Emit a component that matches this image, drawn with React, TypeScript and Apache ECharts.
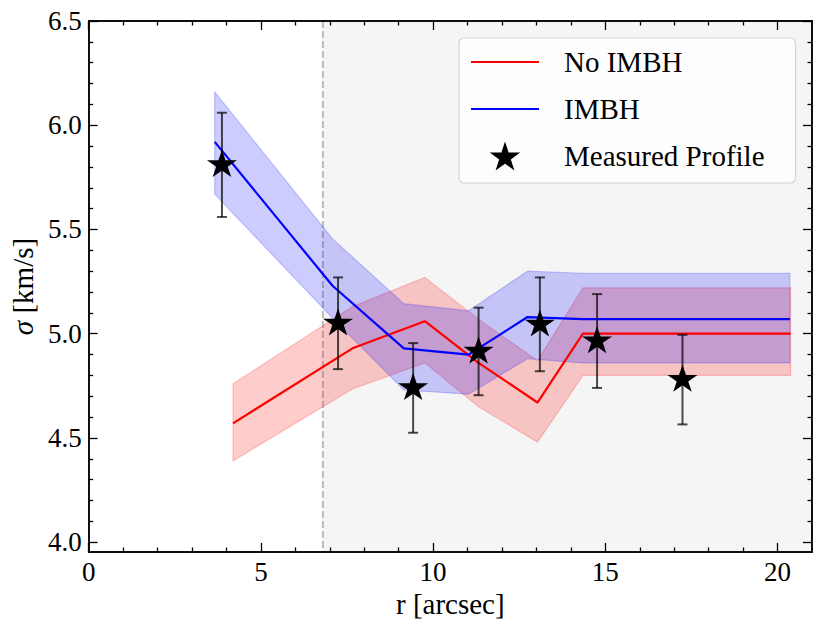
import React, { useEffect, useRef } from 'react';
import * as echarts from 'echarts';

// ---- data ----
const noImbhX = [4.19, 7.66, 9.76, 11.32, 13.03, 14.35, 16.35, 18.35, 20.38];
const noImbhY = [4.57, 4.93, 5.06, 4.86, 4.67, 5.0, 5.0, 5.0, 5.0];
const noImbhUpper = [4.76, 5.13, 5.27, 5.07, 4.87, 5.22, 5.22, 5.22, 5.22];
const noImbhLower = [4.39, 4.735, 4.86, 4.65, 4.48, 4.8, 4.8, 4.8, 4.8];

const imbhX = [3.66, 7.08, 9.15, 11.03, 12.74, 14.35, 16.35, 18.35, 20.36];
const imbhY = [5.92, 5.23, 4.93, 4.9, 5.08, 5.07, 5.07, 5.07, 5.07];
const imbhUpper = [6.16, 5.455, 5.144, 5.11, 5.3, 5.29, 5.29, 5.29, 5.29];
const imbhLower = [5.67, 5.075, 4.73, 4.71, 4.88, 4.86, 4.86, 4.86, 4.86];

const measX = [3.87, 7.24, 9.42, 11.32, 13.1, 14.76, 17.24];
const measY = [5.81, 5.05, 4.74, 4.915, 5.045, 4.965, 4.78];
const measErr = [0.25, 0.22, 0.215, 0.21, 0.225, 0.225, 0.215];

const psfLimit = [6.8];

const legendNames = ['No IMBH', 'IMBH', 'Measured Profile'];

const xMajorTicks = [0, 5, 10, 15, 20];
const xMinorTicks = [1, 2, 3, 4, 6, 7, 8, 9, 11, 12, 13, 14, 16, 17, 18, 19];
const yMajorTicks = [4.0, 4.5, 5.0, 5.5, 6.0, 6.5];
const yMinorTicks = [4.1, 4.2, 4.3, 4.4, 4.6, 4.7, 4.8, 4.9, 5.1, 5.2, 5.3, 5.4, 5.6, 5.7, 5.8, 5.9, 6.1, 6.2, 6.3, 6.4];

const X_MIN = 0;
const X_MAX = 21;
const Y_MIN = 3.953;
const Y_MAX = 6.5;

const FONT = "'Liberation Serif', 'Times New Roman', serif";

// five-pointed star marker (shape only)
function starPath(): string {
  const R = 50;
  const r = R * 0.381966;
  const pts: string[] = [];
  for (let k = 0; k < 10; k++) {
    const rad = k % 2 === 0 ? R : r;
    const a = -Math.PI / 2 + (k * Math.PI) / 5;
    pts.push(`${(rad * Math.cos(a)).toFixed(3)},${(rad * Math.sin(a)).toFixed(3)}`);
  }
  return 'path://M' + pts.join('L') + 'Z';
}
const STAR = starPath();
const LINE_ICON = 'path://M0,0H68V2.2H0Z';

function bandSeries(name: string, xs: number[], lo: number[], hi: number[], color: string) {
  return {
    name,
    type: 'custom',
    z: 2,
    silent: true,
    data: xs.map((x, i) => [x, lo[i], hi[i]]),
    encode: { x: 0, y: [1, 2] },
    renderItem: (params: any, api: any) => {
      if (params.dataIndex !== 0) return null;
      const upper = xs.map((x, i) => api.coord([x, hi[i]]));
      const lower = xs.map((x, i) => api.coord([x, lo[i]])).reverse();
      return {
        type: 'polygon',
        shape: { points: upper.concat(lower) },
        style: { fill: color, stroke: color, lineWidth: 1.2 },
      };
    },
  };
}

function majorAxisCommon() {
  return {
    type: 'value',
    axisLine: { show: true, onZero: false, lineStyle: { color: '#000', width: 1.5 } },
    splitLine: { show: false },
  };
}

export default function App() {
  const ref = useRef<HTMLDivElement>(null);
  useEffect(() => {
    if (!ref.current) return;
    const chart = echarts.init(ref.current, undefined, { renderer: 'svg' });

    const xBase = (position: string, ticks: number[], len: number, labels: boolean, name?: string) => ({
      ...majorAxisCommon(),
      position,
      min: X_MIN,
      max: X_MAX,
      axisTick: { show: true, inside: true, length: len, customValues: ticks, lineStyle: { color: '#000', width: 1.3 } },
      axisLabel: labels
        ? { show: true, customValues: ticks, margin: 6, fontFamily: FONT, fontSize: 27, color: '#000' }
        : { show: false },
      name: name || '',
      nameLocation: 'middle',
      nameGap: 36,
      nameTextStyle: { fontFamily: FONT, fontSize: 29, color: '#000' },
    });
    const yBase = (position: string, ticks: number[], len: number, labels: boolean, name?: string) => ({
      ...majorAxisCommon(),
      position,
      min: Y_MIN,
      max: Y_MAX,
      axisTick: { show: true, inside: true, length: len, customValues: ticks, lineStyle: { color: '#000', width: 1.3 } },
      axisLabel: labels
        ? {
            show: true,
            customValues: ticks,
            margin: 7,
            fontFamily: FONT,
            fontSize: 27,
            color: '#000',
            formatter: (v: number) => v.toFixed(1),
          }
        : { show: false },
      name: name || '',
      nameLocation: 'middle',
      nameRotate: 90,
      nameGap: 48,
      nameTextStyle: {
        fontFamily: FONT,
        fontSize: 29,
        color: '#000',
        rich: { s: { fontFamily: FONT, fontSize: 29, fontStyle: 'italic', color: '#000' } },
      },
    });

    const option: any = {
      animation: false,
      backgroundColor: '#ffffff',
      grid: { left: 85, top: 21, right: 18, bottom: 75, containLabel: false },
      xAxis: [
        xBase('bottom', xMajorTicks, 9, true, 'r [arcsec]'),
        xBase('bottom', xMinorTicks, 4.5, false),
        xBase('top', xMajorTicks, 9, false),
        xBase('top', xMinorTicks, 4.5, false),
      ],
      yAxis: [
        yBase('left', yMajorTicks, 9, true, '{s|σ} [km/s]'),
        yBase('left', yMinorTicks, 4.5, false),
        yBase('right', yMajorTicks, 9, false),
        yBase('right', yMinorTicks, 4.5, false),
      ],
      legend: {
        orient: 'vertical',
        left: 459,
        top: 38,
        data: [
          { name: legendNames[0], icon: LINE_ICON, itemStyle: { color: '#ff0000', borderWidth: 0 } },
          { name: legendNames[1], icon: LINE_ICON, itemStyle: { color: '#0000ff', borderWidth: 0 } },
          { name: legendNames[2], icon: STAR, itemStyle: { color: '#000000', borderWidth: 0, opacity: 1 } },
        ],
        itemWidth: 68,
        itemHeight: 29,
        itemGap: 17,
        symbolKeepAspect: true,
        padding: [9, 31, 12, 12],
        backgroundColor: 'rgba(255,255,255,0.8)',
        borderColor: '#d4d4d4',
        borderWidth: 1.2,
        borderRadius: 5,
        selectedMode: false,
        textStyle: { fontFamily: FONT, fontSize: 29, color: '#000', lineHeight: 30, padding: [0, 0, 0, 20] },
      },
      series: [
        {
          name: 'region',
          type: 'custom',
          z: 0,
          silent: true,
          data: [[psfLimit[0], X_MAX]],
          encode: { x: [0, 1] },
          renderItem: (params: any, api: any) => {
            const x0 = api.value(0);
            const x1 = api.value(1);
            const p0 = api.coord([x0, Y_MAX]);
            const p1 = api.coord([x1, Y_MIN]);
            return {
              type: 'group',
              children: [
                {
                  type: 'rect',
                  shape: { x: p0[0], y: p0[1], width: p1[0] - p0[0], height: p1[1] - p0[1] },
                  style: { fill: '#f5f5f5' },
                },
                {
                  type: 'line',
                  shape: { x1: p0[0], y1: p0[1], x2: p0[0], y2: p1[1] },
                  style: { stroke: 'rgba(128,128,128,0.5)', lineWidth: 2, lineDash: [7, 3] },
                },
              ],
            };
          },
        },
        bandSeries('No IMBH band', noImbhX, noImbhLower, noImbhUpper, 'rgba(255,0,0,0.2)'),
        bandSeries('IMBH band', imbhX, imbhLower, imbhUpper, 'rgba(0,0,255,0.2)'),
        {
          name: legendNames[0],
          type: 'line',
          z: 3,
          symbol: 'none',
          data: noImbhX.map((x, i) => [x, noImbhY[i]]),
          lineStyle: { color: '#ff0000', width: 2.2 },
          itemStyle: { color: '#ff0000' },
        },
        {
          name: legendNames[1],
          type: 'line',
          z: 3,
          symbol: 'none',
          data: imbhX.map((x, i) => [x, imbhY[i]]),
          lineStyle: { color: '#0000ff', width: 2.2 },
          itemStyle: { color: '#0000ff' },
        },
        {
          name: 'errors',
          type: 'custom',
          z: 4,
          silent: true,
          data: measX.map((x, i) => [x, measY[i] - measErr[i], measY[i] + measErr[i]]),
          encode: { x: 0, y: [1, 2] },
          renderItem: (params: any, api: any) => {
            const x = api.value(0);
            const lo = api.coord([x, api.value(1)]);
            const hi = api.coord([x, api.value(2)]);
            const cap = 5;
            const st = { stroke: 'rgba(0,0,0,0.7)', lineWidth: 2 };
            return {
              type: 'group',
              children: [
                { type: 'line', shape: { x1: lo[0], y1: lo[1], x2: hi[0], y2: hi[1] }, style: st },
                { type: 'line', shape: { x1: lo[0] - cap, y1: lo[1], x2: lo[0] + cap, y2: lo[1] }, style: st },
                { type: 'line', shape: { x1: hi[0] - cap, y1: hi[1], x2: hi[0] + cap, y2: hi[1] }, style: st },
              ],
            };
          },
        },
        {
          name: legendNames[2],
          type: 'scatter',
          z: 5,
          symbol: STAR,
          symbolKeepAspect: true,
          symbolSize: [30, 28.5],
          symbolOffset: [0, -1.4],
          data: measX.map((x, i) => [x, measY[i]]),
          itemStyle: { color: '#000000', opacity: 1 },
        },
      ],
    };

    chart.setOption(option);
    return () => chart.dispose();
  }, []);

  return (
    <div
      ref={ref}
      style={{ position: 'absolute', left: 0, top: 0, width: 830, height: 627, background: '#fff' }}
    />
  );
}
